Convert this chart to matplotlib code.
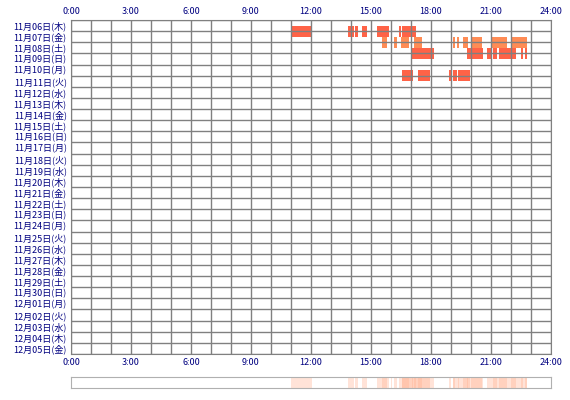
import matplotlib
matplotlib.use("Agg")
import matplotlib.pyplot as plt
import datetime as dt

plt.rcParams['font.family'] = ['Noto Sans CJK JP', 'DejaVu Sans']

start = dt.date(2025, 11, 6)
wd = ['月', '火', '水', '木', '金', '土', '日']
dates = [start + dt.timedelta(days=i) for i in range(30)]
date_labels = [f"{d.month}月{d.day:02d}日({wd[d.weekday()]})" for d in dates]
hour_ticks = [0, 3, 6, 9, 12, 15, 18, 21, 24]
hour_labels = [f"{h}:00" for h in hour_ticks]

# (row index, start hour, end hour)
segments = {
    1: [(11.0, 11.18), (11.22, 12.03), (13.83, 14.15), (14.22, 14.33), (14.55, 14.8),
        (15.3, 15.9), (16.4, 16.5), (16.55, 17.23)],
    2: [(15.55, 15.8), (15.98, 16.05), (16.15, 16.28), (16.5, 16.9), (17.15, 17.55),
        (19.1, 19.2), (19.28, 19.38), (19.6, 19.85), (20.0, 20.55), (21.0, 21.78),
        (21.98, 22.8)],
    3: [(17.05, 18.15), (19.8, 20.58), (20.8, 21.0), (21.12, 21.28), (21.42, 22.25),
        (22.48, 22.62), (22.7, 22.8)],
    5: [(16.55, 17.08), (17.37, 17.95), (18.9, 18.98), (19.08, 19.28), (19.37, 19.53),
        (19.57, 19.95)],
}
row_colors = {1: '#ff6347', 2: '#ff8c55', 3: '#ff6347', 5: '#ff6347'}

fig = plt.figure(figsize=(5.7, 4.0), dpi=100)
W, H = 570, 400
ax = fig.add_axes([71 / W, 1 - 354 / H, 480 / W, 334 / H])
n = len(dates)
for r, segs in segments.items():
    for a, b in segs:
        ax.barh(r, b - a, left=a, height=1.0, color=row_colors[r], edgecolor='none', zorder=1)
ax.set_xlim(0, 24)
ax.set_ylim(n, 0)
for h in range(25):
    ax.axvline(h, color='#808080', lw=1.0, zorder=2)
for i in range(n + 1):
    ax.axhline(i, color='#808080', lw=1.0, zorder=2)
for s in ax.spines.values():
    s.set_color('#808080')
ax.set_yticks([i + 0.5 for i in range(n)])
ax.set_yticklabels(date_labels, fontsize=6.5, color='#000080')
ax.set_xticks(hour_ticks)
ax.set_xticklabels(hour_labels, fontsize=6.5, color='#000080')
ax.tick_params(length=0, pad=3, top=True, labeltop=True)

ax2 = fig.add_axes([71 / W, 1 - 388 / H, 480 / W, 11 / H])
for r, segs in segments.items():
    for a, b in segs:
        ax2.barh(0, b - a, left=a, height=1.0, color='#ffb090', alpha=0.35, edgecolor='none')
ax2.set_xlim(0, 24)
ax2.set_ylim(-0.5, 0.5)
ax2.set_xticks([]); ax2.set_yticks([])
for s in ax2.spines.values():
    s.set_color('#b0b0b0')

fig.savefig('out.png', dpi=100)
